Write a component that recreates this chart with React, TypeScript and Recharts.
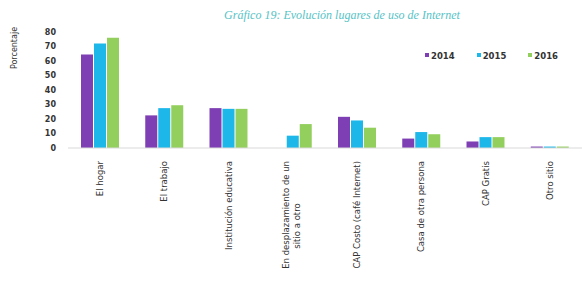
import { Bar, BarChart, Legend, XAxis, YAxis } from "recharts";

const categories = [
    "El hogar",
    "El trabajo",
    "Institución educativa",
    "En desplazamiento de un|sitio a otro",
    "CAP Costo (café Internet)",
    "Casa de otra persona",
    "CAP Gratis",
    "Otro sitio",
];
const values2014 = [64.5, 22.5, 27.5, 0, 21.5, 6.5, 4.5, 1];
const values2015 = [72, 27.5, 27, 8.5, 19, 11, 7.5, 1];
const values2016 = [76, 29.5, 27, 16.5, 14, 9.5, 7.5, 1];
const yTicks = [0, 10, 20, 30, 40, 50, 60, 70, 80];

const series = [
    { key: "y2014", name: "2014", color: "#7d3fb3" },
    { key: "y2015", name: "2015", color: "#1eb7ea" },
    { key: "y2016", name: "2016", color: "#93cf5d" },
];

const data = categories.map((c, i) => ({
    label: c,
    y2014: values2014[i],
    y2015: values2015[i],
    y2016: values2016[i],
}));

const FONT = "'DejaVu Sans', 'Noto Sans', sans-serif";

const CategoryTick = (props: any) => {
    const { x, y, payload } = props;
    const lines = String(payload.value).split("|");
    if (lines.length === 1) {
        return (
            <text x={x + 3} y={y + 5} transform={`rotate(-90, ${x + 3}, ${y + 5})`} textAnchor="end" fontSize={8.5} fill="#333" fontFamily={FONT}>
                {lines[0]}
            </text>
        );
    }
    return (
        <g>
            <text x={x - 4} y={y + 5} transform={`rotate(-90, ${x - 4}, ${y + 5})`} textAnchor="end" fontSize={8.5} fill="#333" fontFamily={FONT}>
                {lines[0]}
            </text>
            <text x={x + 7} y={y + 70} transform={`rotate(-90, ${x + 7}, ${y + 70})`} textAnchor="middle" fontSize={8.5} fill="#333" fontFamily={FONT}>
                {lines[1]}
            </text>
        </g>
    );
};

const YLabel = () => (
    <text x={17} y={48} transform="rotate(-90, 17, 48)" textAnchor="middle" fontSize={8} fill="#333" fontFamily={FONT}>
        Porcentaje
    </text>
);

const LegendContent = () => (
    <div style={{ display: "flex", gap: 22, fontFamily: FONT, fontSize: 8.5, fontWeight: 700, color: "#333" }}>
        {series.map((s) => (
            <div key={s.key} style={{ display: "flex", alignItems: "center" }}>
                <span style={{ width: 4, height: 4, background: s.color, marginRight: 2, marginTop: -3 }} />
                {s.name}
            </div>
        ))}
    </div>
);

export default function App() {
    return (
        <div style={{ position: "absolute", left: 0, top: 0, width: 585, height: 296, background: "#fff" }}>
            <div
                style={{
                    position: "absolute",
                    left: 0,
                    top: 8,
                    width: 585,
                    textAlign: "center",
                    paddingLeft: 99,
                    boxSizing: "border-box",
                    fontFamily: "'Liberation Serif', serif",
                    fontStyle: "italic",
                    fontSize: 12,
                    color: "#55c3c6",
                }}
            >
                Gráfico 19: Evolución lugares de uso de Internet
            </div>
            <BarChart width={585} height={296} data={data} margin={{ top: 22, right: 3, left: 0, bottom: 8 }} barSize={12} barGap={1}>
                <XAxis
                    dataKey="label"
                    interval={0}
                    height={140}
                    axisLine={{ stroke: "#d9d9d9" }}
                    tickLine={false}
                    tick={<CategoryTick />}
                />
                <YAxis
                    width={68}
                    domain={[0, 80]}
                    ticks={yTicks}
                    interval={0}
                    axisLine={false}
                    tickLine={false}
                    tickMargin={6}
                    tick={{ fontSize: 8, fill: "#333", fontFamily: FONT, fontWeight: 700 }}
                    label={<YLabel />}
                />
                <Legend verticalAlign="top" align="left" wrapperStyle={{ top: 51, left: 425, width: 160 }} content={<LegendContent />} />
                {series.map((s) => (
                    <Bar key={s.key} dataKey={s.key} name={s.name} fill={s.color} isAnimationActive={false} />
                ))}
            </BarChart>
        </div>
    );
}
